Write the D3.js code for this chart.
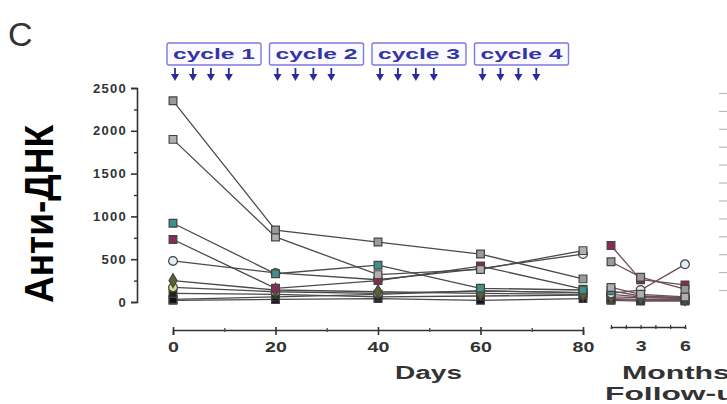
<!DOCTYPE html>
<meta charset="utf-8">
<style>
  body { margin: 0; background: #fff; }
  svg text { font-family: Arial, "Liberation Sans", sans-serif; }
  .tick text { font-weight: bold; fill: #333; }
</style>
<body>
<script src="https://d3js.org/d3.v7.min.js"></script>
<script>

  // days of the treatment period, months of follow-up
  var days = [0, 20, 40, 60, 80];
  var months = [1, 3, 6];
  var yTicks = [0, 500, 1000, 1500, 2000, 2500];
  var dayTicks = [0, 20, 40, 60, 80];
  var monthTicks = [3, 6];
  var cycles = ["cycle 1", "cycle 2", "cycle 3", "cycle 4"];
  var cycleStart = [0, 20, 40, 60];
  var doseOffsets = [0, 3.5, 7, 10.5];

  // anti-DNA per patient: 5 day values then 3 follow-up values
  var patA = [2350, 840, 700, 560, 270, 470, 290, 150];
  var patB = [1900, 760, 320, 380, 600, 170, 90, 60];
  var patC = [920, 330, 430, 160, 140, 130, 70, 50];
  var patD = [730, 160, 250, 420, 150, 660, 260, 200];
  var patE = [480, 340, 260, 390, 560, 100, 140, 440];
  var patF = [250, 140, 120, 100, 90, 60, 50, 40];
  var patG = [170, 120, 100, 130, 110, 90, 60, 50];
  var patH = [100, 90, 60, 70, 80, 40, 30, 30];
  var patI = [30, 60, 90, 130, 110, 30, 20, 20];
  var patJ = [20, 30, 40, 20, 40, 20, 10, 10];

  var patients = [patA, patB, patC, patD, patE, patF, patG, patH, patI, patJ];
  var fills = ["#9a9a9a", "#b0b0b0", "#3f8f8c", "#8a2a58", "#e4ecf4", "#5d6030", "#d8dc8a", "#222", "#111", "#111"];
  var shapes = ["square", "square", "square", "square", "circle", "diamond", "circle", "square", "square", "square"];

  var svg = d3.select("body").append("svg")
    .attr("width", 727)
    .attr("height", 404);

  var xd = d3.scaleLinear().domain([0, 80]).range([173, 583]);
  var xm = d3.scaleLinear().domain([1, 6]).range([611, 685]);
  var y = d3.scaleLinear().domain([0, 2500]).range([302, 88]);

  // panel letter
  svg.append("text").attr("x", 8).attr("y", 46)
    .style("font-size", "34px").attr("fill", "#333").text("C");

  // y axis
  var ya = svg.append("g").attr("transform", "translate(137,0)")
    .call(d3.axisLeft(y).tickValues(yTicks).tickSize(6).tickPadding(4).tickFormat(d3.format("d")));
  ya.selectAll("text").style("font-size", "13px").attr("letter-spacing", "1.3px");
  ya.select(".domain").attr("stroke", "#333").attr("stroke-width", 1.6);
  ya.selectAll("line").attr("stroke", "#333").attr("stroke-width", 1.6);
  svg.append("g").attr("transform", "translate(137,0)")
    .call(d3.axisLeft(y).tickValues(d3.range(250, 2500, 500)).tickSize(3).tickFormat(""))
    .call(function(g) { g.select(".domain").remove(); g.selectAll("line").attr("stroke", "#333").attr("stroke-width", 1.4); });

  // day axis
  var xa = svg.append("g").attr("transform", "translate(0,330)")
    .call(d3.axisBottom(xd).tickValues(dayTicks).tickSize(5).tickPadding(7));
  xa.selectAll("text").style("font-size", "14px").attr("transform", "scale(1.4,1)");
  xa.select(".domain").attr("stroke", "#333").attr("stroke-width", 1.6);
  xa.selectAll("line").attr("stroke", "#333").attr("stroke-width", 1.6).attr("y1", -3);
  svg.append("g").attr("transform", "translate(0,330)")
    .call(d3.axisBottom(xd).tickValues([10, 30, 50, 70]).tickSize(2).tickFormat(""))
    .call(function(g) { g.select(".domain").remove(); g.selectAll("line").attr("stroke", "#555").attr("stroke-width", 1.4).attr("y1", -2); });

  svg.append("text").attr("x", 395).attr("y", 379)
    .attr("textLength", 67).attr("lengthAdjust", "spacingAndGlyphs")
    .style("font-size", "18px").style("font-weight", "bold").attr("fill", "#333").text("Days");

  // follow-up axis
  var ma = svg.append("g").attr("transform", "translate(0,327)")
    .call(d3.axisBottom(xm).tickValues(monthTicks).tickSize(2).tickPadding(12).tickFormat(d3.format("d")));
  ma.selectAll("text").style("font-size", "14px").attr("transform", "scale(1.4,1)");
  ma.select(".domain").attr("stroke", "#333").attr("stroke-width", 1.6);
  ma.selectAll("line").attr("stroke", "#333").attr("stroke-width", 1.2).attr("y1", -2);
  svg.append("g").attr("transform", "translate(0,327)")
    .call(d3.axisBottom(xm).tickValues([1, 2, 4, 5]).tickSize(2).tickFormat(""))
    .call(function(g) { g.select(".domain").remove(); g.selectAll("line").attr("stroke", "#333").attr("stroke-width", 1.2).attr("y1", -2); });

  svg.append("text").attr("x", 622).attr("y", 379)
    .attr("textLength", 108).attr("lengthAdjust", "spacingAndGlyphs")
    .style("font-size", "18px").style("font-weight", "bold").attr("fill", "#333").text("Months");
  svg.append("text").attr("x", 605).attr("y", 400)
    .attr("textLength", 150).attr("lengthAdjust", "spacingAndGlyphs")
    .style("font-size", "18px").style("font-weight", "bold").attr("fill", "#333").text("Follow-up");

  // faint axis ticks of the next panel at the right edge
  svg.append("g").attr("transform", "translate(727,0)")
    .call(d3.axisLeft(d3.scaleLinear().domain([0, 11]).range([290, 93])).ticks(11).tickSize(8).tickFormat(""))
    .call(function(g) { g.select(".domain").remove(); g.selectAll("line").attr("stroke", "#bbb").attr("stroke-width", 1.2); });

  // cycle boxes and dosing arrows
  var cyc = svg.selectAll(".cycle").data(cycles).enter().append("g").attr("class", "cycle");
  cyc.append("rect")
    .attr("x", function(d, i) { return xd(cycleStart[i]) - 6; })
    .attr("y", 43).attr("width", 94).attr("height", 22)
    .attr("fill", "#fbfbff").attr("stroke", "#7a7ae0").attr("stroke-width", 1.4).attr("rx", 2);
  cyc.append("text")
    .attr("x", function(d, i) { return xd(cycleStart[i]) + 41; })
    .attr("y", 59).attr("text-anchor", "middle")
    .attr("textLength", 82).attr("lengthAdjust", "spacingAndGlyphs")
    .style("font-size", "14px").style("font-weight", "bold").attr("fill", "#3434a8").text(function(d) { return d; });

  var doses = [];
  cycleStart.forEach(function(c) { doseOffsets.forEach(function(o) { doses.push(c + o); }); });
  var arr = svg.selectAll(".dose").data(doses).enter().append("g").attr("class", "dose")
    .attr("transform", function(d) { return "translate(" + (xd(d) + 2) + ",0)"; });
  arr.append("line").attr("x1", 0).attr("x2", 0).attr("y1", 68).attr("y2", 78)
    .attr("stroke", "#2a2a9a").attr("stroke-width", 1.8);
  arr.append("path").attr("d", "M-4,74 L4,74 L0,81 Z").attr("fill", "#2a2a9a");

  // lines
  var dayLine = d3.line().x(function(d, i) { return xd(days[i]); }).y(function(d) { return y(d); });
  var monLine = d3.line().x(function(d, i) { return xm(months[i]); }).y(function(d) { return y(d); });

  patients.slice().reverse().forEach(function(p) {
    svg.append("path").attr("d", dayLine(p.slice(0, 5)))
      .attr("fill", "none").attr("stroke", "#4a4a4a").attr("stroke-width", 1.3);
    svg.append("path").attr("d", monLine(p.slice(5)))
      .attr("fill", "none").attr("stroke", "#6a5058").attr("stroke-width", 1.3);
  });

  // markers
  patients.slice().reverse().forEach(function(p, k) {
    var i = patients.length - 1 - k;
    var pts = p.map(function(v, j) {
      return { x: j < 5 ? xd(days[j]) : xm(months[j - 5]), y: y(v) };
    });
    var sym = shapes[i] === "circle" ? d3.symbolCircle : shapes[i] === "diamond" ? d3.symbolDiamond : d3.symbolSquare;
    svg.selectAll(null).data(pts).enter().append("path")
      .attr("transform", function(d) { return "translate(" + d.x + "," + d.y + ")"; })
      .attr("d", d3.symbol().type(sym).size(shapes[i] === "diamond" ? 55 : 60))
      .attr("fill", fills[i]).attr("stroke", "#444").attr("stroke-width", 1.2);
  });

  // y label on white patch
  svg.append("rect").attr("x", 0).attr("y", 110).attr("width", 75).attr("height", 200).attr("fill", "#fff");
  svg.append("text")
    .attr("transform", "translate(53,214) rotate(-90)")
    .attr("text-anchor", "middle")
    .attr("textLength", 178).attr("lengthAdjust", "spacingAndGlyphs")
    .style("font-size", "40px").style("font-weight", "bold").attr("fill", "#000")
    .text("Анти-ДНК");

</script>
</body>
